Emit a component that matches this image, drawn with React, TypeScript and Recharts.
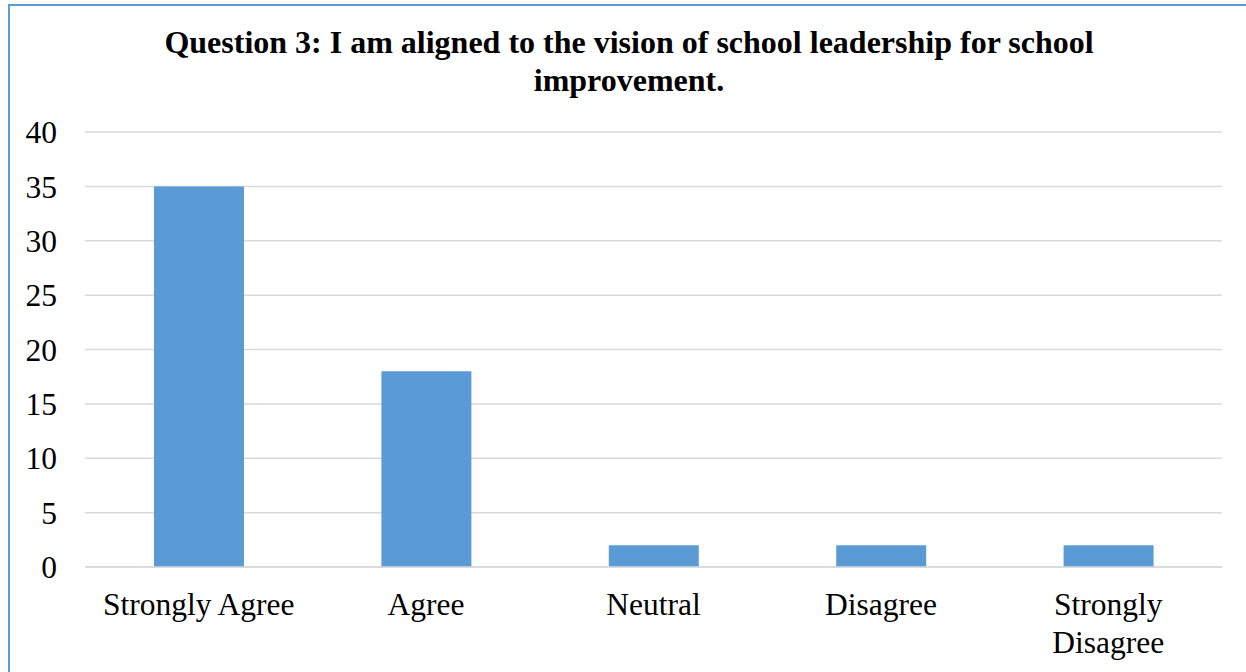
import { Bar, BarChart, CartesianGrid, XAxis, YAxis } from 'recharts';

// survey answers, question 3
const categories = ['Strongly Agree', 'Agree', 'Neutral', 'Disagree', 'Strongly Disagree'];
const responses = [35, 18, 2, 2, 2];
const yTicks = [0, 5, 10, 15, 20, 25, 30, 35, 40];
const titleLines = [
  'Question 3: I am aligned to the vision of school leadership for school',
  'improvement.',
];
const tickLines: Record<string, string[]> = {
  'Strongly Disagree': ['Strongly', 'Disagree'],
};

const data = categories.map((name, i) => ({ name, value: responses[i] }));

const FONT = '"Liberation Serif", "Times New Roman", serif';

const CategoryTick = (props: any) => {
  const { x, y, payload } = props;
  const lines = tickLines[payload.value] || [payload.value];
  return (
    <g>
      {lines.map((line, i) => (
        <text
          key={i}
          x={x}
          y={y + 48 + i * 38}
          textAnchor="middle"
          fill="#000"
          fontSize={31.5}
          fontFamily={FONT}
        >
          {line}
        </text>
      ))}
    </g>
  );
};

export default function App() {
  return (
    <div
      style={{
        position: 'fixed',
        left: 0,
        top: 0,
        width: 1246,
        height: 672,
        overflow: 'hidden',
        background: '#fff',
      }}
    >
      <div
        style={{
          position: 'absolute',
          left: 8,
          top: 4,
          width: 1300,
          height: 720,
          border: '2px solid #5B9BD5',
        }}
      />
      <div
        style={{
          position: 'absolute',
          left: 0,
          top: 23,
          width: 1258,
          textAlign: 'center',
          fontFamily: FONT,
          fontWeight: 'bold',
          fontSize: 32,
          lineHeight: '38px',
          color: '#000',
        }}
      >
        {titleLines.map((t, i) => (
          <div key={i}>{t}</div>
        ))}
      </div>
      <div style={{ position: 'absolute', left: 0, top: 0 }}>
        <BarChart
          width={1246}
          height={672}
          data={data}
          margin={{ top: 132, right: 24, bottom: 75, left: 0 }}
          barSize={90}
        >
          <CartesianGrid vertical={false} stroke="#D9D9D9" strokeWidth={1.5} />
          <XAxis
            dataKey="name"
            height={30}
            axisLine={{ stroke: '#D9D9D9', strokeWidth: 1.5 }}
            tickLine={false}
            tickSize={0}
            tickMargin={0}
            interval={0}
            tick={<CategoryTick />}
          />
          <YAxis
            width={85}
            domain={[0, 40]}
            ticks={yTicks}
            axisLine={false}
            tickLine={false}
            tickSize={0}
            tickMargin={28}
            tick={{ fill: '#000', fontSize: 31.5, fontFamily: FONT }}
          />
          <Bar dataKey="value" fill="#5B9BD5" isAnimationActive={false} />
        </BarChart>
      </div>
    </div>
  );
}
